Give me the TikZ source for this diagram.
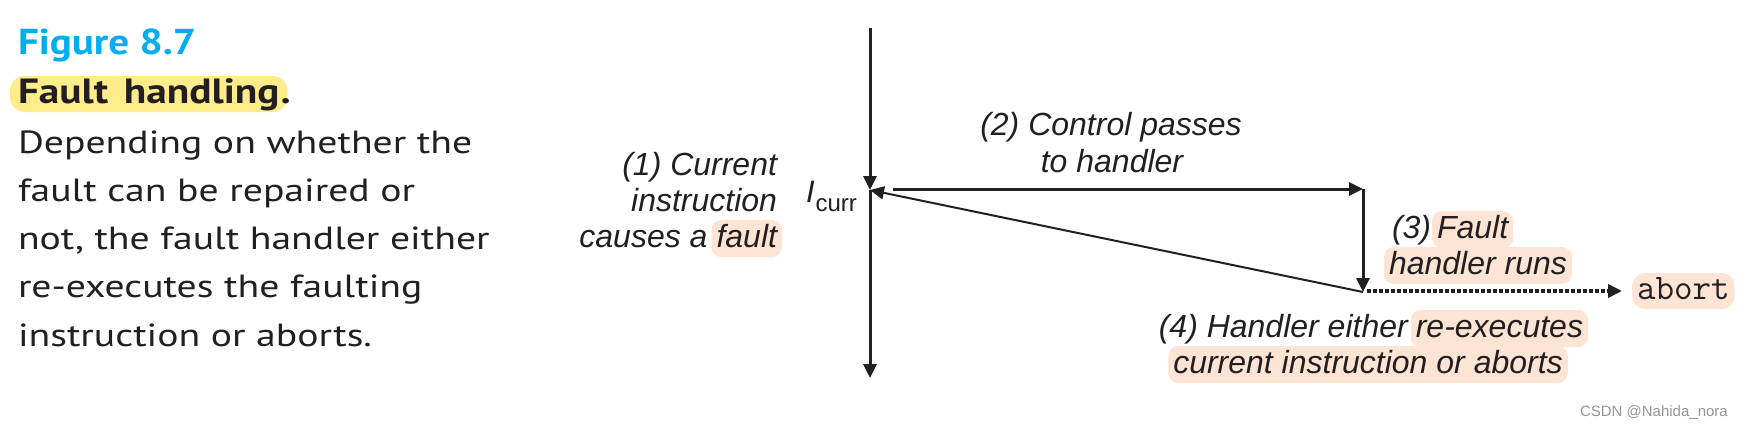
\documentclass[tikz,border=0pt]{standalone}
\usepackage{fontspec}
\setmainfont{Liberation Sans}
\newfontfamily\capfont[FakeStretch=1.24]{PT Sans}
\newfontfamily\figfont[FakeStretch=1.14]{PT Sans}
\newfontfamily\titlefont[FakeStretch=1.18]{PT Sans}
\usetikzlibrary{arrows.meta}
\definecolor{ink}{RGB}{35,31,32}
\definecolor{peach}{RGB}{253,228,212}
\definecolor{hlyellow}{RGB}{255,236,139}
\definecolor{figcyan}{RGB}{0,174,239}
\definecolor{wmgray}{RGB}{150,150,150}
\begin{document}
\begin{tikzpicture}[x=1pt,y=-1pt,
  every node/.style={inner sep=0pt, outer sep=0pt, text=ink},
  lbl/.style={font=\fontsize{32}{36}\selectfont\itshape},
  hl/.style={lbl, fill=peach, rounded corners=10pt, inner xsep=5pt, inner ysep=3pt, text height=24pt, text depth=7pt},
  captxt/.style={font=\capfont\fontsize{32}{48}\selectfont, anchor=base west},
  arr/.style={draw=ink, line width=3pt, -{Triangle[length=14pt,width=13pt]}},
  thinarr/.style={draw=ink, line width=2pt, -{Triangle[length=14pt,width=13pt]}},
  dotarr/.style={draw=ink, line width=3.5pt, dash pattern=on 3.5pt off 2.5pt, -{Triangle[length=14pt,width=13pt,sep=0pt]}},
]
\fill[white] (0,0) rectangle (1750,428);
\useasboundingbox (0,0) rectangle (1750,428);

% caption
\node[anchor=base west, font=\figfont\bfseries\fontsize{36}{40}\selectfont, text=figcyan] (fig) at (18,55) {Figure 8.7};
\node[anchor=base west, fill=hlyellow, rounded corners=15pt, inner xsep=8pt, text height=27pt, text depth=9pt, inner ysep=0pt,
      font=\titlefont\bfseries\fontsize{35}{40}\selectfont] (fh) at (10,103) {Fault\hspace{0.45em}handling};
\node[anchor=base west, font=\titlefont\bfseries\fontsize{35}{40}\selectfont] (fhdot) at ([xshift=-7pt]fh.base east) {.};
\node[captxt] (c1) at (18,153) {Depending on whether the};
\node[captxt] (c2) at (18,201) {fault can be repaired or};
\node[captxt] (c3) at (18,249) {not, the fault handler either};
\node[captxt] (c4) at (18,297) {re-executes the faulting};
\node[captxt] (c5) at (18,346) {instruction or aborts.};

% timeline
\coordinate (top) at (870,28);
\coordinate (icurr) at (870,190);
\coordinate (bottom) at (870,378);
\coordinate (hstart) at (893,189);
\coordinate (htop) at (1363,189);
\coordinate (hbot) at (1363,292);
\node[anchor=west, font=\fontsize{36}{38}\selectfont\ttfamily, fill=peach, rounded corners=13pt, inner xsep=5pt, text height=22pt, text depth=6pt, inner ysep=4pt] (abort) at (1632,291) {abort};

\draw[arr] (top) -- (icurr);
\draw[arr] (icurr) -- (bottom);
\draw[arr] (hstart) -- (htop);
\draw[arr] (htop) -- (hbot);
\draw[thinarr] (hbot) -- (icurr);
\draw[dotarr] ([xshift=4pt,yshift=1pt]hbot) -- ([xshift=-10pt]abort.west);

% I_curr label
\node[anchor=base west, font=\fontsize{31}{36}\selectfont] (ic) at (806,202) {\itshape I\kern1pt\raisebox{-9pt}{\upshape\fontsize{24}{28}\selectfont curr}};

% (1)
\node[lbl, anchor=base east] (t1a) at (777,175) {(1) Current};
\node[lbl, anchor=base east] (t1b) at (777,211) {instruction};
\node[hl, anchor=base east] (t1f) at (782,247) {fault};
\node[lbl, anchor=base east] (t1c) at ([xshift=-4pt]t1f.base west) {causes a};

% (2)
\node[lbl, anchor=base] (t2a) at (1111,135) {(2) Control passes};
\node[lbl, anchor=base] (t2b) at (1112,172) {to handler};

% (3)
\node[lbl, anchor=base west] (t3a) at (1392,238) {(3)};
\node[hl, anchor=base west] (t3f) at (1432,238) {Fault};
\node[hl, anchor=base west] (t3b) at (1384,274) {handler runs};

% (4)
\node[hl, anchor=base east] (t4r) at (1588,337) {re-executes};
\node[lbl, anchor=base east] (t4a) at ([xshift=-3pt]t4r.base west) {(4) Handler either};
\node[hl, anchor=base] (t4b) at (1368,373) {current instruction or aborts};

% watermark
\node[anchor=base west, font=\fontsize{15}{18}\selectfont, text=wmgray] (wm) at (1580,416) {CSDN @Nahida\_nora};
\end{tikzpicture}
\end{document}
